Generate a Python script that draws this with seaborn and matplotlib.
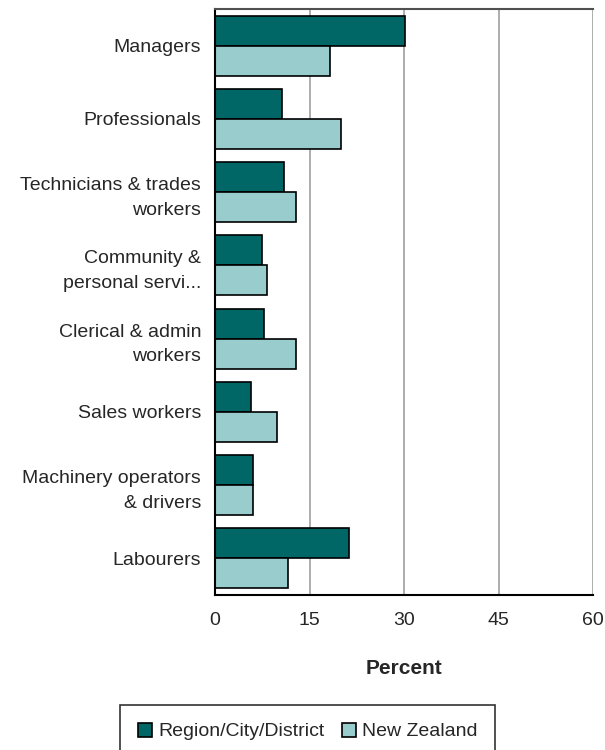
import matplotlib
matplotlib.use("Agg")
import matplotlib.pyplot as plt
import seaborn as sns
import pandas as pd

categories = ["Managers", "Professionals", "Technicians & trades\nworkers",
              "Community &\npersonal servi...", "Clerical & admin\nworkers",
              "Sales workers", "Machinery operators\n& drivers", "Labourers"]
region = [30.1, 10.7, 11.0, 7.5, 7.8, 5.7, 6.0, 21.3]
nz = [18.2, 20.0, 12.9, 8.3, 12.9, 9.9, 6.0, 11.6]
series = ["Region/City/District", "New Zealand"]
colors = ["#006666", "#99CCCC"]
xticks = [0, 15, 30, 45, 60]

df = pd.DataFrame({
    "Occupation": categories * 2,
    "Percent": region + nz,
    "Series": [series[0]] * len(categories) + [series[1]] * len(categories),
})

sns.set_style("white")
plt.rcParams["font.family"] = ["Liberation Sans", "DejaVu Sans"]

FS = 14
fig = plt.figure(figsize=(6.05, 7.5), dpi=100)
ax = fig.add_axes([0.3554, 0.2067, 0.6253, 0.7813])

sns.barplot(data=df, y="Occupation", x="Percent", hue="Series", orient="h",
            palette=colors, width=0.82, gap=0, edgecolor="black", linewidth=1.2,
            ax=ax, legend=True, saturation=1)

ax.set_xlim(0, 60)
ax.set_xticks(xticks)
ax.set_xticklabels([str(t) for t in xticks], fontsize=FS)
ax.tick_params(axis="x", length=0, pad=12)
ax.tick_params(axis="y", length=0, labelsize=FS, pad=10)
for lab in ax.get_yticklabels():
    lab.set_horizontalalignment("right")
    lab.set_multialignment("right")
    lab.set_linespacing(1.6)
ax.set_ylabel("")
ax.set_xlabel("Percent", fontsize=FS + 1, fontweight="bold", labelpad=22)
ax.xaxis.grid(True, color="#a0a0a0", linewidth=1.2)
ax.set_axisbelow(True)
for s in ["left", "bottom"]:
    ax.spines[s].set_color("black")
    ax.spines[s].set_linewidth(1.5)
ax.spines["top"].set_color("#505050")
ax.spines["top"].set_linewidth(1.5)
ax.spines["right"].set_visible(False)

handles, labels = ax.get_legend_handles_labels()
ax.get_legend().remove()
leg = fig.legend(handles, labels, loc="upper left", bbox_to_anchor=(120/605, 1-705/750),
                 ncol=2, frameon=True, fontsize=FS, handlelength=0.75, handleheight=0.75,
                 handletextpad=0.3, columnspacing=0.9, borderpad=0.9, borderaxespad=0,
                 fancybox=False)
leg.get_frame().set_edgecolor("black")
leg.get_frame().set_linewidth(1.2)

fig.savefig("out.png", dpi=100)
